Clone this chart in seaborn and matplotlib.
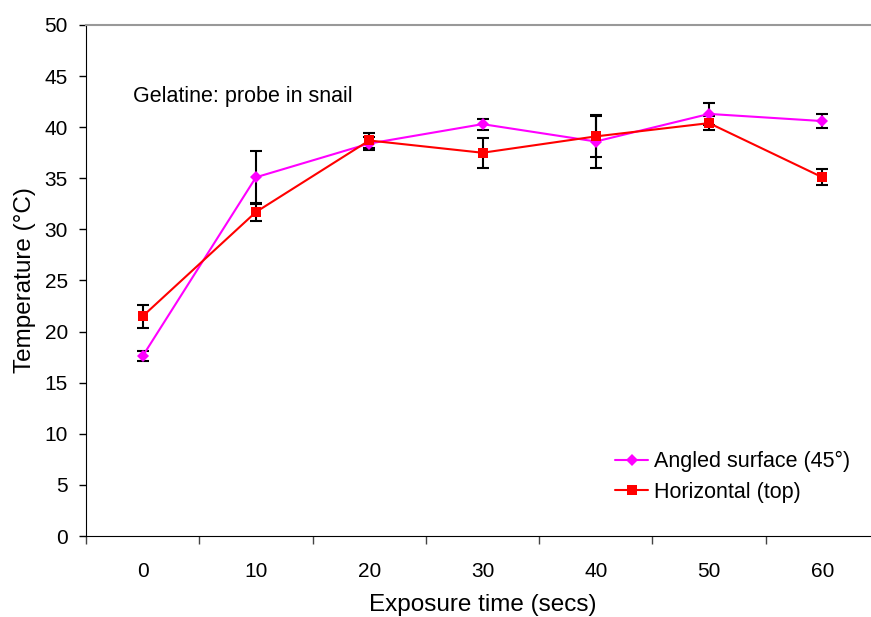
import numpy as np
import pandas as pd
import matplotlib
matplotlib.use('Agg')
import matplotlib.pyplot as plt
import seaborn as sns

# values
times = ['0', '10', '20', '30', '40', '50', '60']
angled = [17.6, 35.1, 38.4, 40.3, 38.6, 41.3, 40.6]
angled_err = [0.5, 2.6, 0.6, 0.55, 2.6, 1.1, 0.65]
horizontal = [21.5, 31.7, 38.7, 37.5, 39.1, 40.4, 35.1]
horizontal_err = [1.1, 0.9, 0.7, 1.45, 2.0, 0.7, 0.8]

series_names = ['Angled surface (45°)', 'Horizontal (top)']

df = pd.DataFrame({
    'pos': list(range(len(times))) * 2,
    'temp': angled + horizontal,
    'err': angled_err + horizontal_err,
    'series': [series_names[0]] * len(times) + [series_names[1]] * len(times),
})

sns.set_style('ticks')
plt.rcParams['font.family'] = ['Liberation Sans', 'DejaVu Sans']
plt.rcParams['text.color'] = 'black'
plt.rcParams['axes.labelcolor'] = 'black'
plt.rcParams['xtick.color'] = 'black'
plt.rcParams['ytick.color'] = 'black'

fig = plt.figure(figsize=(8.71, 6.17), dpi=100)
ax = fig.add_axes([86 / 871, 1 - 536 / 617, 793 / 871, (536 - 25) / 617])

# error bars first so the lines and markers sit on top
for name in series_names:
    sub = df[df['series'] == name]
    ax.errorbar(sub['pos'], sub['temp'], yerr=sub['err'], fmt='none',
                ecolor='black', elinewidth=1.5, capsize=4.5, capthick=1.5, zorder=2)

sns.lineplot(data=df, x='pos', y='temp', hue='series', style='series',
             palette={series_names[0]: '#ff00ff', series_names[1]: '#ff0000'},
             markers={series_names[0]: 'D', series_names[1]: 's'},
             dashes=False, linewidth=1.5, markersize=7, markeredgewidth=0,
             ax=ax, zorder=3)
for line in ax.lines:
    if line.get_marker() == 'D':
        line.set_markersize(6)

ax.set_xlim(-0.5, 6.5)
ax.set_ylim(0, 50)
ax.set_yticks(np.arange(0, 51, 5))
ax.set_xticks(range(len(times)))
ax.set_xticklabels(times)
ax.set_xticks(np.arange(-0.5, 6.6, 1), minor=True)
ax.tick_params(axis='x', which='major', length=0, pad=19, labelsize=15)
ax.tick_params(axis='x', which='minor', length=6, width=1, color='#444444')
ax.tick_params(axis='y', length=5, width=1, labelsize=15, pad=8)

ax.set_xlabel('Exposure time (secs)', fontsize=17.5, labelpad=9)
ax.set_ylabel('Temperature (°C)', fontsize=17.5, labelpad=6)

ax.spines['right'].set_visible(False)
ax.spines['top'].set_color('#999999')
ax.spines['top'].set_linewidth(1.5)
ax.spines['left'].set_color('black')
ax.spines['bottom'].set_color('black')

ax.text(-0.085, 43.0, 'Gelatine: probe in snail', fontsize=15.5, va='center', ha='left')

handles, labels = ax.get_legend_handles_labels()
ax.legend(handles, labels, loc='upper left', bbox_to_anchor=(615 / 871, 1 - 451 / 617),
          bbox_transform=fig.transFigure, frameon=False, fontsize=15.5,
          handlelength=1.55, handletextpad=0.25, labelspacing=0.45,
          borderpad=0, borderaxespad=0)

fig.savefig('out.png', dpi=100)
